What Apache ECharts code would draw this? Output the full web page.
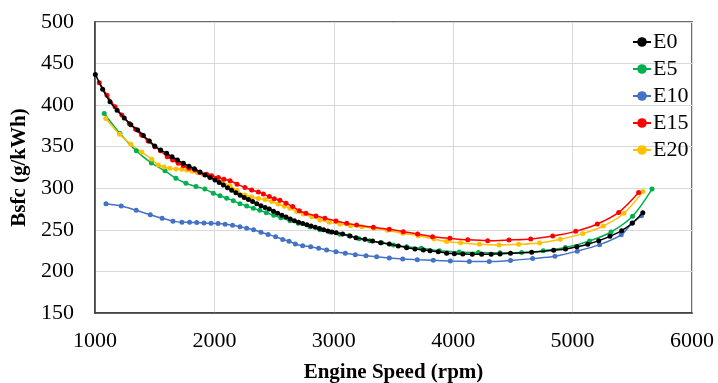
<!DOCTYPE html>
<html>
<head>
<meta charset="utf-8">
<script src="https://cdn.jsdelivr.net/npm/echarts@6/dist/echarts.min.js"></script>
<style>html,body{margin:0;padding:0;background:#fff;}#c{width:718px;height:383px;}</style>
</head>
<body>
<div id="c"></div>
<script>
var seriesNames = ['E0', 'E5', 'E10', 'E15', 'E20'];
var xTicks = [1000, 2000, 3000, 4000, 5000, 6000];
var yTicks = [150, 200, 250, 300, 350, 400, 450, 500];

var e0 = [[1003,437],[1064,419],[1126,404],[1185,394],[1245,384.5],[1300,376.5],[1357,370],[1405,363.5],[1455,357],[1500,351],[1550,346],[1600,342],[1645,338],[1690,334],[1740,330],[1787,326.5],[1832,323.5],[1879,319.5],[1921,316],[1963,313],[2005,310],
[2040,307],[2075,304],[2110,300.5],[2145,297.5],[2180,294.5],[2215,291.5],[2250,289],[2285,286.5],[2320,284],[2355,281.5],[2390,279],[2425,277],[2460,275],[2495,272.5],[2530,270],[2565,267.5],[2600,265.5],[2635,263],[2670,261],[2705,259],[2740,257.5],[2775,256],[2810,254.5],[2845,253],[2880,251.5],[2915,250],[2950,248.5],[2985,247.5],[3020,246.5],
[3074,245],[3136,242.6],[3186,240.6],[3261,238.6],[3325,236.6],[3392,234.6],[3465,233],[3540,230.6],[3610,228.5],[3680,227],[3750,225.8],[3806,224.9],[3875,223.7],[3945,222],[4010,221.4],[4080,221],[4160,220.6],[4238,220.6],[4318,220.8],[4392,221],[4480,221.8],[4657,223],[4841,225.5],[4940,227],[5036,229.7],[5127,232.8],[5219,237],[5313,242.2],[5411,249],[5501,258.2],[5588,270.6]];

var e5 = [[1077,390],[1209,366],[1346,345],[1472,330.5],[1586,321],[1678,312],[1762,306],[1846,302],[1920,299],[1991,294],[2047,291],[2103,288],[2158,285],[2214,281.5],[2270,278.7],[2326,275.9],[2380,273.5],[2435,270.5],[2497,267.5],[2556,264.5],[2633,261],[2703,257.8],[2801,253.8],[2884,250.2],[2968,247.5],[3050,244.8],[3128,242.8],[3212,239.2],[3300,236.8],[3401,234.6],[3500,231.8],[3610,229.7],[3733,227.8],[3884,225],[4051,223.5],[4211,222.8],[4392,222.5],[4573,222.8],[4754,224.9],[4940,228.7],[5142,236.6],[5322,247.4],[5502,266.3],[5665,299]];

var e10 = [[1092,281.5],[1220,278.7],[1345,273.5],[1463,268.2],[1562,264],[1653,260.5],[1728,259.1],[1792,259],[1852,258.8],[1913,258.2],[1972,257.9],[2031,257.5],[2090,256.7],[2152,255.5],[2214,253.8],[2270,252],[2328,250.2],[2390,247.2],[2450,244.5],[2512,241.7],[2572,238.5],[2625,236.3],[2678,233],[2739,230.9],[2806,229.7],[2873,227.8],[2940,225.8],[3018,223.7],[3096,221.8],[3180,220.1],[3270,218.9],[3359,217.7],[3465,216.1],[3577,214.9],[3699,214.1],[3833,213.3],[3976,212.5],[4135,212],[4302,211.8],[4480,213.2],[4665,215.4],[4852,218.2],[5039,224.4],[5226,232.2],[5407,244],[5498,257.9],[5577,267]];

var e15 = [[1036,427],[1100,412],[1168,398],[1225,388],[1287,378],[1340,371],[1390,364],[1445,357],[1502,350],[1549,345],[1605,338],[1650,334],[1697,330],[1740,327],[1787,324],[1838,322],[1879,319],[1935,317],[1977,315],[2033,313],[2080,311],[2131,309],[2190,305],[2256,301],[2312,298],[2368,295.5],[2410,293],[2460,290],[2502,287.5],[2549,285.5],[2600,282],[2656,278],[2711,273],[2767,270],[2851,266.7],[2926,264],[3018,260.6],[3108,257.8],[3191,255.8],[3331,253],[3465,250.6],[3582,247.8],[3702,245],[3827,241.8],[3973,239.8],[4122,238],[4289,237],[4467,237.8],[4649,239],[4833,242.6],[5026,248.2],[5207,257],[5386,271],[5553,295]];

var e20 = [[1090,384],[1206,365],[1300,353],[1391,343.5],[1475,335],[1530,328],[1578,325.5],[1628,324],[1678,323.2],[1726,323],[1768,322],[1815,320.5],[1857,319],[1907,317],[1957,315],[2005,312],[2060,308],[2131,303],[2190,297],[2256,292],[2312,289.6],[2368,287.6],[2424,286.5],[2480,284],[2535,281],[2585,278.5],[2633,276],[2689,272],[2745,269],[2815,265.8],[2884,262],[2962,259],[3052,257],[3141,255],[3233,253.8],[3337,252],[3448,249.5],[3577,246],[3708,243],[3839,239],[3945,236],[4062,234.5],[4219,232.6],[4384,231.8],[4548,232.6],[4724,234.2],[4897,238.6],[5085,245.5],[5257,254.6],[5430,270],[5589,296]];

var seriesData = [e0, e5, e10, e15, e20];
var colors = ['#000000', '#00b050', '#4472c4', '#ff0000', '#ffc000'];

var chart = echarts.init(document.getElementById('c'), null, {renderer: 'canvas'});
var font = '"Liberation Serif", "Times New Roman", serif';

chart.setOption({
  animation: false,
  backgroundColor: '#ffffff',
  grid: {left: 95, right: 26, top: 22, bottom: 70, show: true, borderColor: '#3a3a3a', borderWidth: 1.5, backgroundColor: 'transparent', outerBoundsMode: 'none', containLabel: false},
  legend: {
    orient: 'vertical', left: 627, top: 26,
    itemWidth: 18, itemHeight: 12, itemGap: 5,
    data: seriesNames,
    textStyle: {fontFamily: font, fontSize: 22, color: '#000', lineHeight: 22, padding: [0,0,0,-3]}
  },
  xAxis: {
    type: 'value', min: xTicks[0], max: xTicks[xTicks.length - 1], interval: 1000,
    name: 'Engine Speed (rpm)', nameLocation: 'middle', nameGap: 49,
    nameTextStyle: {fontFamily: font, fontSize: 21, fontWeight: 'bold', color: '#000'},
    axisLine: {show: true, lineStyle: {color: '#3a3a3a', width: 1.5}},
    axisTick: {show: false},
    axisLabel: {fontFamily: font, fontSize: 22, color: '#000', margin: 17, formatter: function (v) { return String(v); }},
    splitLine: {show: true, lineStyle: {color: '#d9d9d9', width: 1}}
  },
  yAxis: {
    type: 'value', min: yTicks[0], max: yTicks[yTicks.length - 1], interval: 50,
    name: 'Bsfc (g/kWh)', nameLocation: 'middle', nameGap: 62,
    nameTextStyle: {fontFamily: font, fontSize: 21, fontWeight: 'bold', color: '#000'},
    axisLine: {show: true, lineStyle: {color: '#3a3a3a', width: 1.5}},
    axisTick: {show: false},
    axisLabel: {fontFamily: font, fontSize: 22, color: '#000', margin: 21, formatter: function (v) { return String(v); }},
    splitLine: {show: true, lineStyle: {color: '#d9d9d9', width: 1}}
  },
  series: seriesNames.map(function (n, i) {
    return {
      name: n, type: 'line', data: seriesData[i], smooth: 0.3,
      symbol: 'circle', symbolSize: 5, showSymbol: true,
      color: colors[i],
      lineStyle: {color: colors[i], width: 1.5},
      itemStyle: {color: colors[i]},
      z: [5, 3, 2, 4, 3][i]
    };
  })
});
</script>
</body>
</html>
